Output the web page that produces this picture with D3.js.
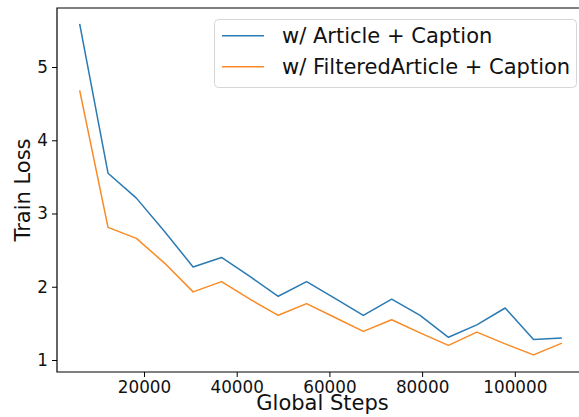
<!DOCTYPE html>
<html>
<head>
<meta charset="utf-8">
<script src="https://cdn.jsdelivr.net/npm/d3@7"></script>
<style>
  body { margin: 0; background: #fff; }
  svg { display: block; font-family: "DejaVu Sans", sans-serif; }
</style>
</head>
<body>
<div id="chart"></div>
<script>
// data
var steps = [6120, 12240, 18360, 24480, 30600, 36720, 42840, 48960, 55080,
  61200, 67320, 73440, 79560, 85680, 91800, 97920, 104040, 110160];
var articleLoss = [5.59, 3.55, 3.21, 2.75, 2.27, 2.40, 2.14, 1.87, 2.07,
  1.84, 1.61, 1.83, 1.61, 1.31, 1.48, 1.71, 1.28, 1.30];
var filteredLoss = [4.68, 2.81, 2.66, 2.32, 1.93, 2.07, 1.83, 1.61, 1.77,
  1.58, 1.39, 1.55, 1.37, 1.20, 1.38, 1.22, 1.07, 1.23];
var seriesNames = ["w/ Article + Caption", "w/ FilteredArticle + Caption"];
var xTicks = [20000, 40000, 60000, 80000, 100000];
var yTicks = [1, 2, 3, 4, 5];

var svgWidth = 579;
var svgHeight = 417;

// axes box (right edge runs off the picture)
var margin = { top: 8, left: 57, bottom: 45, right: -9 };
var width = svgWidth - margin.left - margin.right;
var height = svgHeight - margin.top - margin.bottom;

var svg = d3.select("#chart")
  .append("svg")
  .attr("width", svgWidth)
  .attr("height", svgHeight);

var chartGroup = svg.append("g")
  .attr("transform", `translate(${margin.left}, ${margin.top})`);

var xScale = d3.scaleLinear()
  .domain([1230, 115790])
  .range([0, width]);

var yScale = d3.scaleLinear()
  .domain([0.836, 5.806])
  .range([height, 0]);

var bottomAxis = d3.axisBottom(xScale)
  .tickValues(xTicks)
  .tickFormat(d3.format("d"))
  .tickSize(5)
  .tickPadding(4);

var leftAxis = d3.axisLeft(yScale)
  .tickValues(yTicks)
  .tickFormat(d3.format("d"))
  .tickSize(5)
  .tickPadding(4);

var xAxisG = chartGroup.append("g")
  .attr("transform", `translate(0, ${height})`)
  .call(bottomAxis);

var yAxisG = chartGroup.append("g")
  .call(leftAxis);

[xAxisG, yAxisG].forEach(function(g) {
  g.select(".domain").remove();
  g.selectAll("line").attr("stroke", "#000").attr("stroke-width", 1);
  g.selectAll("text")
    .attr("fill", "#111")
    .style("font-family", "DejaVu Sans")
    .style("font-size", "16.8px");
});

// lines
var line = d3.line()
  .x(function(d) { return xScale(d[0]); })
  .y(function(d) { return yScale(d[1]); });

var colors = ["#2a7ab3", "#f98a25"];
var allSeries = [articleLoss, filteredLoss];

allSeries.forEach(function(vals, i) {
  chartGroup.append("path")
    .datum(steps.map(function(s, j) { return [s, vals[j]]; }))
    .attr("fill", "none")
    .attr("stroke", colors[i])
    .attr("stroke-width", 1.5)
    .attr("stroke-linejoin", "round")
    .attr("d", line);
});

// spines
chartGroup.append("path")
  .attr("d", `M${width},0H0V${height}H${width}`)
  .attr("fill", "none")
  .attr("stroke", "#000")
  .attr("stroke-width", 1.2);

// axis labels
chartGroup.append("text")
  .attr("transform", `translate(${width / 2}, ${height + 38})`)
  .attr("text-anchor", "middle")
  .style("font-size", "21px")
  .attr("fill", "#111")
  .text("Global Steps");

chartGroup.append("text")
  .attr("transform", "rotate(-90)")
  .attr("x", -height / 2)
  .attr("y", 30 - margin.left)
  .attr("text-anchor", "middle")
  .style("font-size", "21px")
  .attr("fill", "#111")
  .text("Train Loss");

// legend
var legend = svg.append("g");
legend.append("rect")
  .attr("x", 214.5)
  .attr("y", 19.5)
  .attr("width", 362)
  .attr("height", 68)
  .attr("rx", 4)
  .attr("fill", "#fff")
  .attr("fill-opacity", 0.8)
  .attr("stroke", "#d6d6d6");

seriesNames.forEach(function(name, i) {
  var ly = 35.7 + i * 31;
  legend.append("line")
    .attr("x1", 222).attr("x2", 264)
    .attr("y1", ly).attr("y2", ly)
    .attr("stroke", colors[i])
    .attr("stroke-width", 1.5);
  legend.append("text")
    .attr("x", 282)
    .attr("y", ly + 7.5)
    .style("font-size", "21px")
    .attr("fill", "#111")
    .text(name);
});
</script>
</body>
</html>
